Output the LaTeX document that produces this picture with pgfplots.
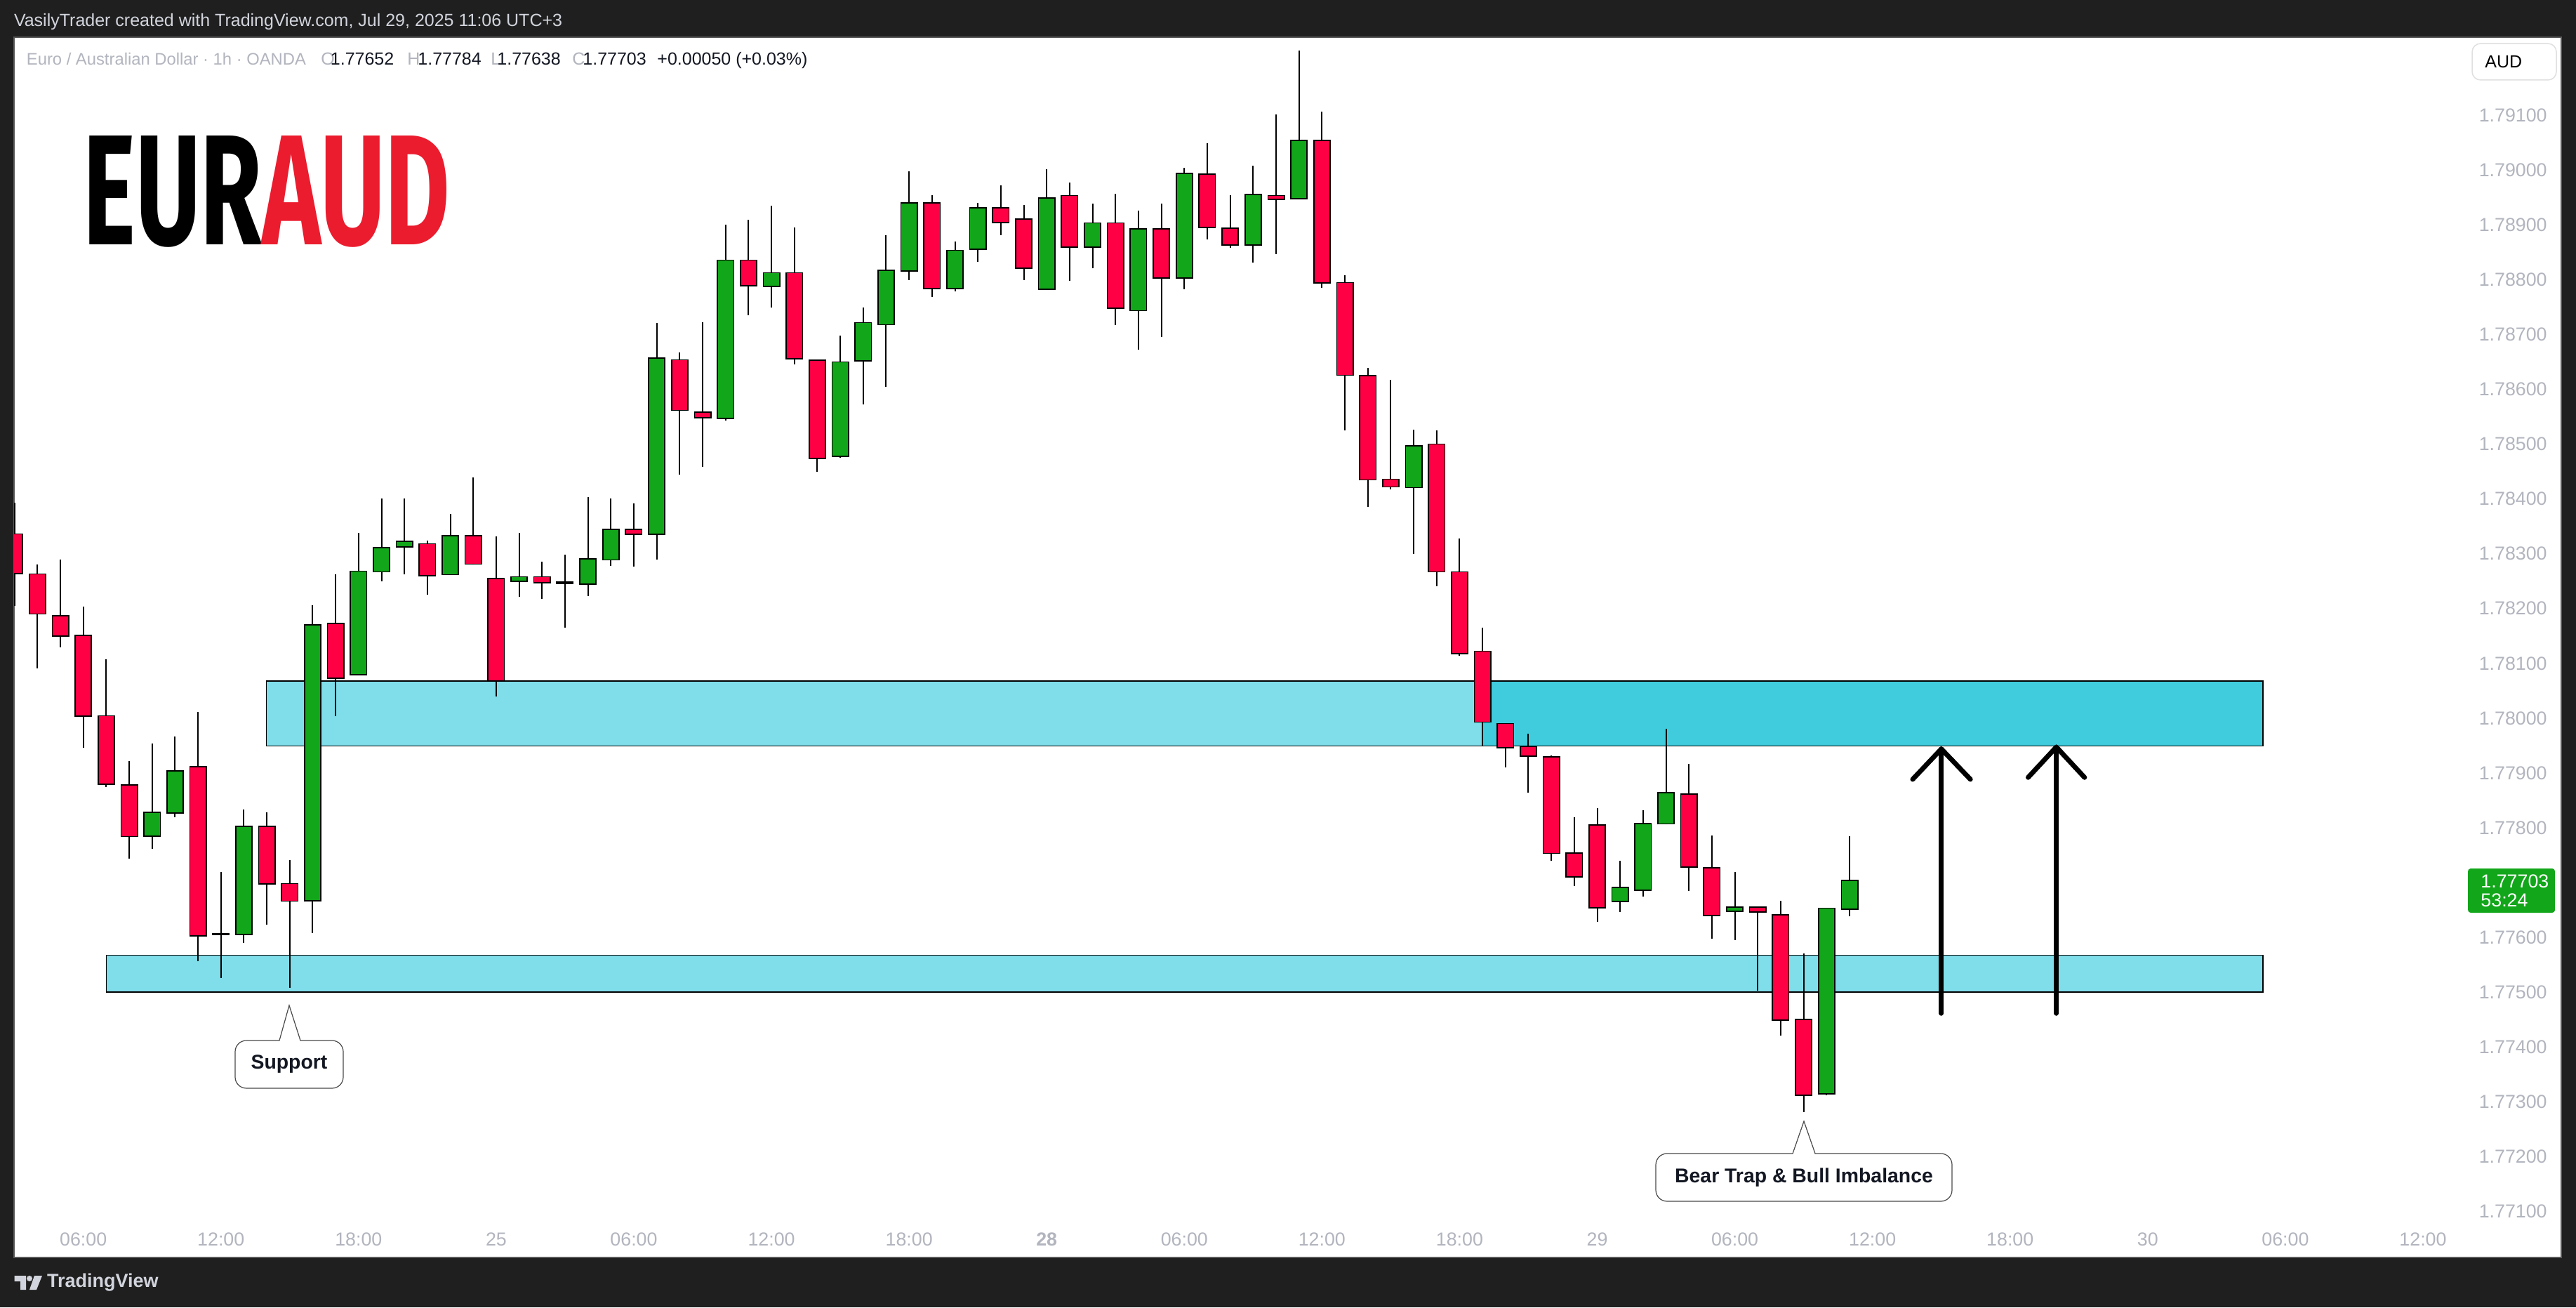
\documentclass[border=0pt]{standalone}
\usepackage{fontspec}
\setmainfont{Liberation Sans}
\newfontfamily\logofont{Fira Sans}
\usepackage{graphicx}
\usepackage{pgfplots}
\usepackage{pgfplotstable}
\pgfplotsset{compat=1.18}

\definecolor{bg}{HTML}{1F1F1F}
\definecolor{bull}{HTML}{12A61A}
\definecolor{bear}{HTML}{FF0044}
\definecolor{zonelight}{HTML}{80DEEA}
\definecolor{zonedark}{HTML}{40CCDD}
\definecolor{tickgray}{HTML}{B2B5BE}
\definecolor{eurred}{HTML}{EB1C2E}
\definecolor{tvtext}{HTML}{131722}
\definecolor{hdr}{HTML}{D1D4DC}
\definecolor{cb}{HTML}{4A4A4A}

\newcommand\tickfont{\fontsize{13.4}{16}\selectfont}
\newcommand\hdrfont{\fontsize{12.5}{15}\selectfont}

\pgfplotstableread{
i O H L C
3 1.77786 1.77953 1.77762 1.77827
4 1.77828 1.77967 1.77819 1.77903
6 1.77606 1.77719 1.77526 1.77606
7 1.77606 1.77833 1.77590 1.77801
10 1.77668 1.78206 1.77608 1.78169
12 1.78080 1.78338 1.78079 1.78267
13 1.78268 1.78401 1.78250 1.78310
14 1.78314 1.78401 1.78262 1.78322
16 1.78263 1.78373 1.78262 1.78332
19 1.78251 1.78338 1.78222 1.78257
21 1.78247 1.78299 1.78165 1.78247
22 1.78246 1.78403 1.78223 1.78290
23 1.78290 1.78401 1.78278 1.78343
25 1.78337 1.78721 1.78289 1.78656
28 1.78548 1.78901 1.78543 1.78835
30 1.78789 1.78935 1.78750 1.78812
33 1.78479 1.78698 1.78475 1.78649
34 1.78653 1.78749 1.78573 1.78721
35 1.78719 1.78882 1.78605 1.78816
36 1.78817 1.78998 1.78800 1.78939
38 1.78785 1.78870 1.78779 1.78853
39 1.78857 1.78940 1.78833 1.78930
42 1.78784 1.79002 1.78782 1.78948
44 1.78861 1.78939 1.78821 1.78903
46 1.78745 1.78926 1.78673 1.78892
48 1.78804 1.79004 1.78783 1.78993
51 1.78865 1.79008 1.78832 1.78955
53 1.78949 1.79218 1.78949 1.79053
58 1.78422 1.78526 1.78300 1.78496
67 1.77666 1.77739 1.77646 1.77690
68 1.77687 1.77832 1.77674 1.77806
69 1.77808 1.77980 1.77806 1.77863
72 1.77648 1.77719 1.77595 1.77654
76 1.77315 1.77652 1.77312 1.77652
77 1.77652 1.77784 1.77638 1.77703
}\bull

\pgfplotstableread{
i O H L C
-3 1.78335 1.78393 1.78205 1.78265
-2 1.78262 1.78280 1.78091 1.78191
-1 1.78186 1.78290 1.78129 1.78151
0 1.78150 1.78204 1.77946 1.78005
1 1.78003 1.78108 1.77874 1.77880
2 1.77877 1.77921 1.77744 1.77785
5 1.77910 1.78011 1.77556 1.77604
8 1.77801 1.77828 1.77623 1.77698
9 1.77697 1.77741 1.77508 1.77667
11 1.78172 1.78262 1.78003 1.78074
15 1.78317 1.78324 1.78225 1.78261
17 1.78332 1.78440 1.78280 1.78282
18 1.78254 1.78332 1.78040 1.78069
20 1.78257 1.78286 1.78218 1.78248
24 1.78343 1.78392 1.78276 1.78337
26 1.78653 1.78668 1.78445 1.78563
27 1.78557 1.78722 1.78458 1.78549
29 1.78835 1.78910 1.78735 1.78790
31 1.78812 1.78896 1.78646 1.78657
32 1.78652 1.78654 1.78450 1.78475
37 1.78939 1.78954 1.78769 1.78785
40 1.78930 1.78972 1.78882 1.78906
41 1.78910 1.78936 1.78800 1.78822
43 1.78953 1.78977 1.78798 1.78861
45 1.78903 1.78957 1.78718 1.78749
47 1.78892 1.78939 1.78696 1.78804
49 1.78992 1.79049 1.78874 1.78897
50 1.78893 1.78954 1.78859 1.78865
52 1.78953 1.79102 1.78847 1.78948
54 1.79053 1.79107 1.78785 1.78795
55 1.78794 1.78809 1.78525 1.78627
56 1.78624 1.78639 1.78385 1.78436
57 1.78435 1.78618 1.78417 1.78423
59 1.78499 1.78525 1.78241 1.78268
60 1.78266 1.78328 1.78114 1.78119
61 1.78121 1.78165 1.77948 1.77994
62 1.77989 1.77991 1.77910 1.77947
63 1.77947 1.77972 1.77864 1.77932
64 1.77928 1.77932 1.77740 1.77754
65 1.77753 1.77819 1.77694 1.77711
66 1.77804 1.77836 1.77628 1.77655
70 1.77860 1.77916 1.77684 1.77729
71 1.77726 1.77786 1.77597 1.77641
73 1.77654 1.77654 1.77503 1.77647
74 1.77640 1.77666 1.77420 1.77450
75 1.77449 1.77571 1.77281 1.77313
}\bear

\pgfplotsset{
  nomark/.style={only marks, mark=*, mark size=0pt, mark options={draw=none, fill=none}},
  wick/.style={nomark,
    error bars/.cd, y dir=plus, y explicit, error mark=none,
    error bar style={line width=1pt, draw=black, line cap=butt}},
  bodyedge/.style={nomark,
    error bars/.cd, y dir=plus, y explicit, error mark=none,
    error bar style={line width=12.5pt, draw=black, line cap=butt}},
  bodyfill/.style={nomark,
    error bars/.cd, y dir=plus, y explicit, error mark=none,
    error bar style={line width=10.8pt, draw=#1, line cap=butt}},
}

\begin{document}
\begin{tikzpicture}
\fill[bg] (0pt,0pt) rectangle (1835pt,-931pt);
\begin{scope}[x=0.5pt,y=-0.5pt]
\fill[white] (20,53) rectangle (3649,1791);
\draw[gray!70!black, line width=0.75pt] (20,53) rectangle (3649,1791);
\end{scope}

\begin{axis}[
  at={(10pt,-895.5pt)}, anchor=south west,
  width=1814.5pt, height=869pt, scale only axis,
  xmin=-3.02, xmax=108.03, ymin=1.770155, ymax=1.792429,
  axis line style={draw=none}, tick style={draw=none}, major tick length=0pt,
  scaled y ticks=false, scaled x ticks=false,
  xtick={0,6,12,18,24,30,36,42,48,54,60,66,72,78,84,90,96,102},
  xticklabels={06:00,12:00,18:00,25,06:00,12:00,18:00,\textbf{28},06:00,12:00,18:00,29,06:00,12:00,18:00,30,06:00,12:00},
  ytick={1.771,1.772,1.773,1.774,1.775,1.776,1.778,1.779,1.780,1.781,1.782,1.783,1.784,1.785,1.786,1.787,1.788,1.789,1.790,1.791},
  yticklabels={1.77100,1.77200,1.77300,1.77400,1.77500,1.77600,1.77800,1.77900,1.78000,1.78100,1.78200,1.78300,1.78400,1.78500,1.78600,1.78700,1.78800,1.78900,1.79000,1.79100},
  yticklabel pos=right,
  ticklabel style={font=\tickfont, text=tickgray},
  xticklabel style={anchor=center, yshift=13pt},
  yticklabel style={anchor=east, inner sep=0pt, xshift=-10pt},
  /pgf/number format/assume math mode=true,
  clip=true,
]
% zones
\addplot[fill=zonelight, draw=none] coordinates {(1.0,1.77500) (95.03,1.77500) (95.03,1.77567) (1.0,1.77567) (1.0,1.77500)};
\addplot[draw=black, line width=0.8pt] coordinates {(1.0,1.77500) (95.03,1.77500) (95.03,1.77567) (1.0,1.77567) (1.0,1.77500)};
\addplot[fill=zonelight, draw=none] coordinates {(7.98,1.77949) (95.03,1.77949) (95.03,1.78068) (7.98,1.78068) (7.98,1.77949)};
\addplot[fill=zonedark, draw=none] coordinates {(61.02,1.77949) (95.03,1.77949) (95.03,1.78068) (61.02,1.78068) (61.02,1.77949)};
\addplot[draw=black, line width=0.8pt] coordinates {(7.98,1.77949) (95.03,1.77949) (95.03,1.78068) (7.98,1.78068) (7.98,1.77949)};

% wicks
\addplot[wick] table[x=i, y=L, y error plus expr={\thisrow{H}-\thisrow{L}}] {\bull};
\addplot[wick] table[x=i, y=L, y error plus expr={\thisrow{H}-\thisrow{L}}] {\bear};
% body outlines
\addplot[bodyedge] table[x=i, y expr={min(\thisrow{O},\thisrow{C})-0.0000218}, y error plus expr={abs(\thisrow{C}-\thisrow{O})+0.0000436}] {\bull};
\addplot[bodyedge] table[x=i, y expr={min(\thisrow{O},\thisrow{C})-0.0000218}, y error plus expr={abs(\thisrow{C}-\thisrow{O})+0.0000436}] {\bear};
% body fills
\addplot[bodyfill=bull] table[x=i, y expr={min(\thisrow{O},\thisrow{C})}, y error plus expr={abs(\thisrow{C}-\thisrow{O})}] {\bull};
\addplot[bodyfill=bear] table[x=i, y expr={min(\thisrow{O},\thisrow{C})}, y error plus expr={abs(\thisrow{C}-\thisrow{O})}] {\bear};
\end{axis}

\begin{scope}[x=0.5pt,y=-0.5pt]
% header
\node[anchor=base west, inner sep=0pt, text=hdr, font=\hdrfont] at (19.6,37.3) {VasilyTrader created with TradingView.com, Jul 29, 2025 11:06 UTC+3};
\node[anchor=base west, inner sep=0pt, text=tickgray, font=\fontsize{11.9}{14}\selectfont] at (37.5,92.5) {Euro / Australian Dollar · 1h · OANDA};
\node[anchor=base west, inner sep=0pt, text=tickgray, font=\hdrfont] at (457,92.5) {O};
\node[anchor=base west, inner sep=0pt, text=tvtext, font=\hdrfont] at (470.5,92.5) {1.77652};
\node[anchor=base west, inner sep=0pt, text=tickgray, font=\hdrfont] at (580,92.5) {H};
\node[anchor=base west, inner sep=0pt, text=tvtext, font=\hdrfont] at (595,92.5) {1.77784};
\node[anchor=base west, inner sep=0pt, text=tickgray, font=\hdrfont] at (699,92.5) {L};
\node[anchor=base west, inner sep=0pt, text=tvtext, font=\hdrfont] at (708,92.5) {1.77638};
\node[anchor=base west, inner sep=0pt, text=tickgray, font=\hdrfont] at (815,92.5) {C};
\node[anchor=base west, inner sep=0pt, text=tvtext, font=\hdrfont] at (830,92.5) {1.77703};
\node[anchor=base west, inner sep=0pt, text=tvtext, font=\hdrfont] at (936,92.5) {+0.00050 (+0.03\%)};

% logo
\node[anchor=south west, inner sep=0pt] at (118,353) {\resizebox{261.5pt}{77.5pt}{\logofont\bfseries EUR\textcolor{eurred}{AUD}}};

% AUD box
\draw[draw=black!12, fill=white, line width=0.75pt, rounded corners=6pt] (3522,62) rectangle (3642,114);
\node[anchor=west, inner sep=0pt, text=black, font=\fontsize{12.5}{15}\selectfont] at (3540,88) {AUD};

% current price label
\fill[bull, rounded corners=2pt] (3516,1237) rectangle (3640,1300);
\node[anchor=west, inner sep=0pt, text=white, font=\tickfont] at (3534,1255) {1.77703};
\node[anchor=west, inner sep=0pt, text=white, font=\tickfont] at (3534,1282) {53:24};

% arrows
\draw[line width=3.45pt, line cap=round, line join=round] (2724.9,1110) -- (2765.8,1066.7) -- (2807.2,1110);
\draw[line width=3.45pt, line cap=round] (2765.8,1066.7) -- (2765.8,1443.3);
\draw[line width=3.45pt, line cap=round, line join=round] (2889.4,1107.3) -- (2929.6,1064) -- (2969.8,1107.3);
\draw[line width=3.45pt, line cap=round] (2929.6,1064) -- (2929.6,1443.3);

% Support callout
\draw[draw=cb, fill=white, line width=0.6pt, rounded corners=8pt] (335,1482) rectangle (489,1550);
\fill[white] (398,1484) -- (412,1432) -- (428,1484) -- cycle;
\draw[cb, line width=0.6pt] (398,1482) -- (412,1432) -- (428,1482);
\node[text=tvtext, font=\fontsize{14.2}{17}\selectfont\bfseries] at (412,1516) {Support};

% Bear trap callout
\draw[draw=cb, fill=white, line width=0.6pt, rounded corners=8pt] (2359,1643) rectangle (2781,1711);
\fill[white] (2554,1645) -- (2570,1597) -- (2586,1645) -- cycle;
\draw[cb, line width=0.6pt] (2554,1643) -- (2570,1597) -- (2586,1643);
\node[text=tvtext, font=\fontsize{14.2}{17}\selectfont\bfseries] at (2570,1677) {Bear Trap \& Bull Imbalance};

% footer logo
\fill[hdr] (20.6,1817) -- (37,1817) -- (37,1837) -- (29,1837) -- (29,1825) -- (20.6,1825) -- cycle;
\fill[hdr] (42,1821) circle (4);
\fill[hdr] (49,1817) -- (60,1817) -- (52,1837) -- (42,1837) -- cycle;
\node[anchor=base west, inner sep=0pt, text=hdr, font=\fontsize{13.5}{16}\selectfont\bfseries] at (66.7,1833) {TradingView};
\end{scope}
\end{tikzpicture}
\end{document}
